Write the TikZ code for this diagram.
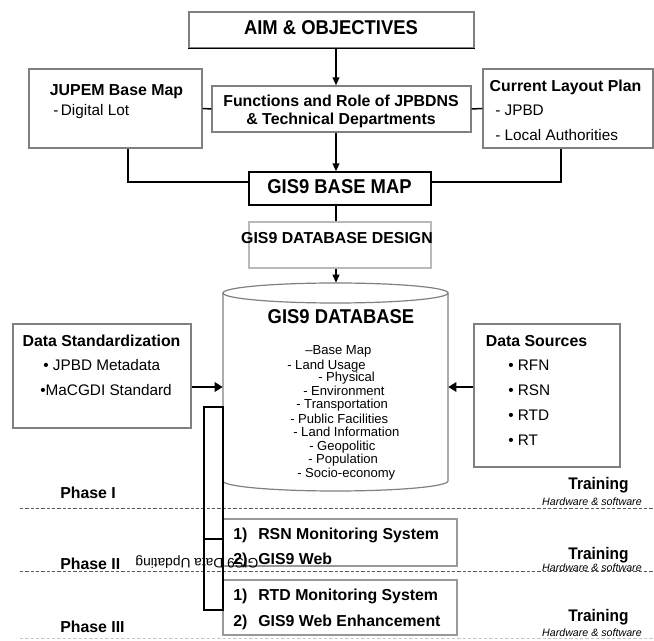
\documentclass[tikz,border=0pt]{standalone}
\usepackage{fontspec}
\setmainfont{Liberation Sans}
\newfontfamily\tallfont[FakeStretch=0.92]{Liberation Sans}
\usetikzlibrary{arrows.meta,calc}
\begin{document}
\begin{tikzpicture}[x=0.75pt,y=-0.75pt,
  sz/.style 2 args={minimum width=#1*0.75pt, minimum height=#2*0.75pt},
  frame/.style={draw=gray, line width=0.9pt, inner sep=0, fill=white},
  conn/.style={draw=black, line width=1.1pt},
  arr/.style={conn, -{Triangle[length=6pt,width=5pt]}},
  thickarr/.style={draw=black, line width=2.2pt, -{Triangle[length=6pt,width=7pt]}},
  lbl/.style={inner sep=0, text height=0.72em, text depth=0pt},
  bigb/.style={lbl, font=\tallfont\fontsize{15}{17}\selectfont\bfseries},
  midb/.style={lbl, font=\fontsize{11.9}{14}\selectfont\bfseries},
  tallb/.style={lbl, font=\tallfont\fontsize{12.6}{15}\selectfont\bfseries},
  reg/.style={lbl, font=\fontsize{11.5}{14}\selectfont},
  small/.style={lbl, font=\fontsize{9.8}{12}\selectfont, anchor=west},
  hw/.style={lbl, font=\fontsize{8}{10}\selectfont\itshape, anchor=east},
  phase/.style={draw=gray!70!black, line width=0.75pt, dash pattern=on 2.5pt off 1.5pt}
]
\useasboundingbox (0,0) rectangle (654,641);

% top boxes
\node[frame, sz={285}{36}] (aim) at (331.5,30) {};
\draw[black, line width=0.9pt] (aim.south west) -- (aim.south east);
\node[bigb] (aimt) at (331,30) {AIM \& OBJECTIVES};

\node[frame, sz={259}{46}] (fn) at (341.5,109) {};
\node[midb] (fn1) at (341,102) {Functions and Role of JPBDNS};
\node[midb] (fn2) at (341,120) {\& Technical Departments};

\node[frame, sz={173}{79}] (jup) at (115.5,108.5) {};
\node[midb] (jupt) at (116.5,91) {JUPEM Base Map};
\node[reg, anchor=west] (jupi) at (53,111) {-\,Digital Lot};

\node[frame, sz={170}{79}] (cur) at (568,108.5) {};
\node[midb] (curt) at (565.5,87) {Current Layout Plan};
\node[reg, anchor=west] (cur1) at (495,111) {- JPBD};
\node[reg, anchor=west] (cur2) at (495,136) {- Local Authorities};

\node[frame, draw=black, sz={182}{33}] (base) at (340,188.5) {};
\node[bigb] (baset) at (339.5,189) {GIS9 BASE MAP};

\node[frame, draw=gray!55, sz={182}{46}] (des) at (340,245) {};
\node[midb] (dest) at (337,239) {GIS9 DATABASE DESIGN};

% cylinder
\node[inner sep=0, sz={225}{208}] (db) at (335.5,387) {};
\draw[gray, line width=0.9pt, fill=white] (223,293) -- (223,481)
  .. controls (223,486.5) and (273.4,491) .. (335.5,491)
  .. controls (397.6,491) and (448,486.5) .. (448,481) -- (448,293);
\draw[gray, line width=0.9pt, fill=white] (335.5,293) ellipse [x radius=84.375pt, y radius=7.5pt];
\node[bigb] (dbt) at (341,319) {GIS9 DATABASE};
\node[small] (l1) at (305,350) {–Base Map};
\node[small] (l2) at (287,365) {- Land Usage};
\node[small] (l3) at (318,377) {- Physical};
\node[small] (l4) at (303,391) {- Environment};
\node[small] (l5) at (296,404) {- Transportation};
\node[small] (l6) at (290,419) {- Public Facilities};
\node[small] (l7) at (293,432) {- Land Information};
\node[small] (l8) at (309,446) {- Geopolitic};
\node[small] (l9) at (308,459) {- Population};
\node[small] (l10) at (297,473) {- Socio-economy};

% side boxes
\node[frame, sz={178}{104}] (ds) at (102,376) {};
\node[midb] (dst) at (101.5,342) {Data Standardization};
\node[reg, anchor=west] (ds1) at (43,366) {• JPBD Metadata};
\node[reg, anchor=west] (ds2) at (40,391) {•MaCGDI Standard};

\node[frame, sz={146}{143}] (src) at (547,395.5) {};
\node[midb] (srct) at (536.5,342) {Data Sources};
\node[reg, anchor=west] (s1) at (508,366) {• RFN};
\node[reg, anchor=west] (s2) at (508,391) {• RSN};
\node[reg, anchor=west] (s3) at (508,416) {• RTD};
\node[reg, anchor=west] (s4) at (508,441) {• RT};

% connectors
\coordinate (spine) at (336,0);
\coordinate (jl) at (128,0);
\coordinate (cl) at (561,0);
\coordinate (hy) at (0,182);
\draw[arr] (aim.south -| spine) -- (fn.north -| spine);
\draw[arr] (fn.south -| spine) -- (base.north -| spine);
\draw[conn] (base.south -| spine) -- (des.north -| spine);
\draw[arr] (des.south -| spine) -- (db.north -| spine);
\draw[conn] (jup.south -| jl) |- (base.west |- hy);
\draw[conn] (cur.south -| cl) |- (base.east |- hy);
\draw[conn] (jup.east) -- (fn.west);
\draw[conn] (fn.east) -- (cur.west);
\draw[thickarr] (ds.east |- db.west) -- (db.west);
\draw[thickarr] (src.west |- db.east) -- (db.east);

% phase lines
\draw[phase] (20,509) -- (654,509);
\draw[phase] (20,572) -- (654,572);
\draw[phase, draw=gray!45] (20,639) -- (654,639);

% phase boxes
\node[frame, draw=gray!80, line width=1.5pt, sz={234}{47}] (rsn) at (340,542.5) {};
\node[midb, anchor=west] (r1n) at (233,535) {1)};
\node[midb, anchor=west] (r1) at (258,535) {RSN Monitoring System};
\node[midb, anchor=west] (r2n) at (233,560) {2)};
\node[midb, anchor=west] (r2) at (258,560) {GIS9 Web};

\node[frame, draw=gray!80, line width=1.5pt, sz={234}{55}] (rtd) at (340,607.5) {};
\node[midb, anchor=west] (t1n) at (233,596) {1)};
\node[midb, anchor=west] (t1) at (258,596) {RTD Monitoring System};
\node[midb, anchor=west] (t2n) at (233,622) {2)};
\node[midb, anchor=west] (t2) at (258,622) {GIS9 Web Enhancement};

% updating bracket
\coordinate (bkt) at (204,407);
\coordinate (bkb) at (223,610);
\draw[conn] (bkt) rectangle (bkb);
\draw[conn] (bkt |- 0,539) -- (rsn.west |- 0,539);
\node[lbl, font=\fontsize{10.3}{12}\selectfont, rotate=180] (upd) at (197,563) {GIS9 Data Updating};

% phase labels
\node[midb, anchor=west] (p1) at (60,494) {Phase I};
\node[midb, anchor=west] (p2) at (60,565) {Phase II};
\node[midb, anchor=west] (p3) at (60,628) {Phase III};
\node[tallb] (tr1) at (598.5,485) {Training};
\node[tallb] (tr2) at (598.5,555) {Training};
\node[tallb] (tr3) at (598.5,617) {Training};
\node[hw] (hw1) at (642,501) {Hardware \& software};
\node[hw] (hw2) at (642,567) {Hardware \& software};
\node[hw] (hw3) at (642,632) {Hardware \& software};
\end{tikzpicture}
\end{document}
